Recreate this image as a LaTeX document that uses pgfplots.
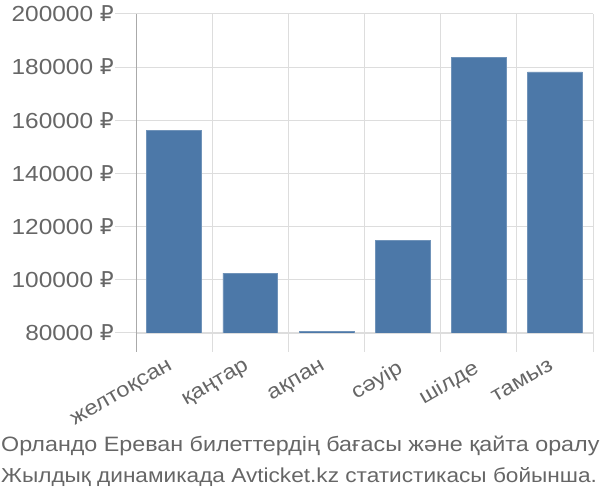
\documentclass[border=0pt]{standalone}
\usepackage{fontspec}
\setmainfont{Liberation Sans}[FakeStretch=1.12]
\newfontfamily\dv{DejaVu Sans}[FakeStretch=1.0]
\usepackage{pgfplots}
\pgfplotsset{compat=1.18}
\definecolor{barblue}{HTML}{4C78A8}
\definecolor{txt}{HTML}{666666}
\definecolor{gridc}{HTML}{DDDDDD}
\definecolor{axc}{HTML}{AAAAAA}
\begin{document}
\begin{tikzpicture}[x=1bp,y=1bp]
\path[use as bounding box] (0,0) rectangle (600,500);
\begin{axis}[
  at={(136bp,167bp)}, anchor=south west,
  width=457bp, height=319bp, scale only axis,
  xmin=-0.5, xmax=5.5, ymin=80000, ymax=200000,
  axis x line*=bottom, axis y line*=left,
  x axis line style={draw=gridc,-},
  y axis line style={draw=axc,-},
  xtick={0,1,2,3,4,5},
  xticklabels={желтоқсан,қаңтар,ақпан,сәуір,шілде,тамыз},
  minor xtick={-0.5,0.5,1.5,2.5,3.5,4.5,5.5},
  xminorgrids=true, ymajorgrids=true,
  grid style={draw=gridc, line width=1bp},
  minor grid style={draw=gridc, line width=1bp},
  tick align=outside,
  major tick length=21bp, minor tick length=19bp,
  major x tick style={draw=none},
  minor x tick style={draw=gridc, line width=1bp},
  major y tick style={draw=gridc, line width=1bp},
  ytick={80000,100000,...,200000},
  scaled y ticks=false,
  yticklabel={\pgfmathprintnumber[fixed,1000 sep={}]{\tick}~{\dv ₽}},
  yticklabel style={font=\fontsize{21.8bp}{24bp}\selectfont, text=txt, inner sep=1bp},
  xticklabel style={font=\fontsize{21bp}{24bp}\selectfont, text=txt, rotate=30, anchor=north east, inner sep=1bp, xshift=-7bp},
  /pgf/number format/assume math mode=true,
]
\addplot[ybar, bar width=0.72, fill=barblue, draw=barblue!80!white, line width=0.5bp]
  coordinates {(0,156300) (1,102500) (2,80500) (3,114900) (4,183700) (5,178200)};
\end{axis}
\draw[axc, line width=1bp] (136,167) -- (136,148);
\node[anchor=base west, inner sep=0, font=\fontsize{20.8bp}{23bp}\selectfont, text=txt] at (1,48) {Орландо Ереван билеттердің бағасы және қайта оралу};
\node[anchor=base west, inner sep=0, font=\fontsize{20.2bp}{23bp}\selectfont, text=txt] at (1,17) {Жылдық динамикада Avticket.kz статистикасы бойынша.};
\end{tikzpicture}
\end{document}
